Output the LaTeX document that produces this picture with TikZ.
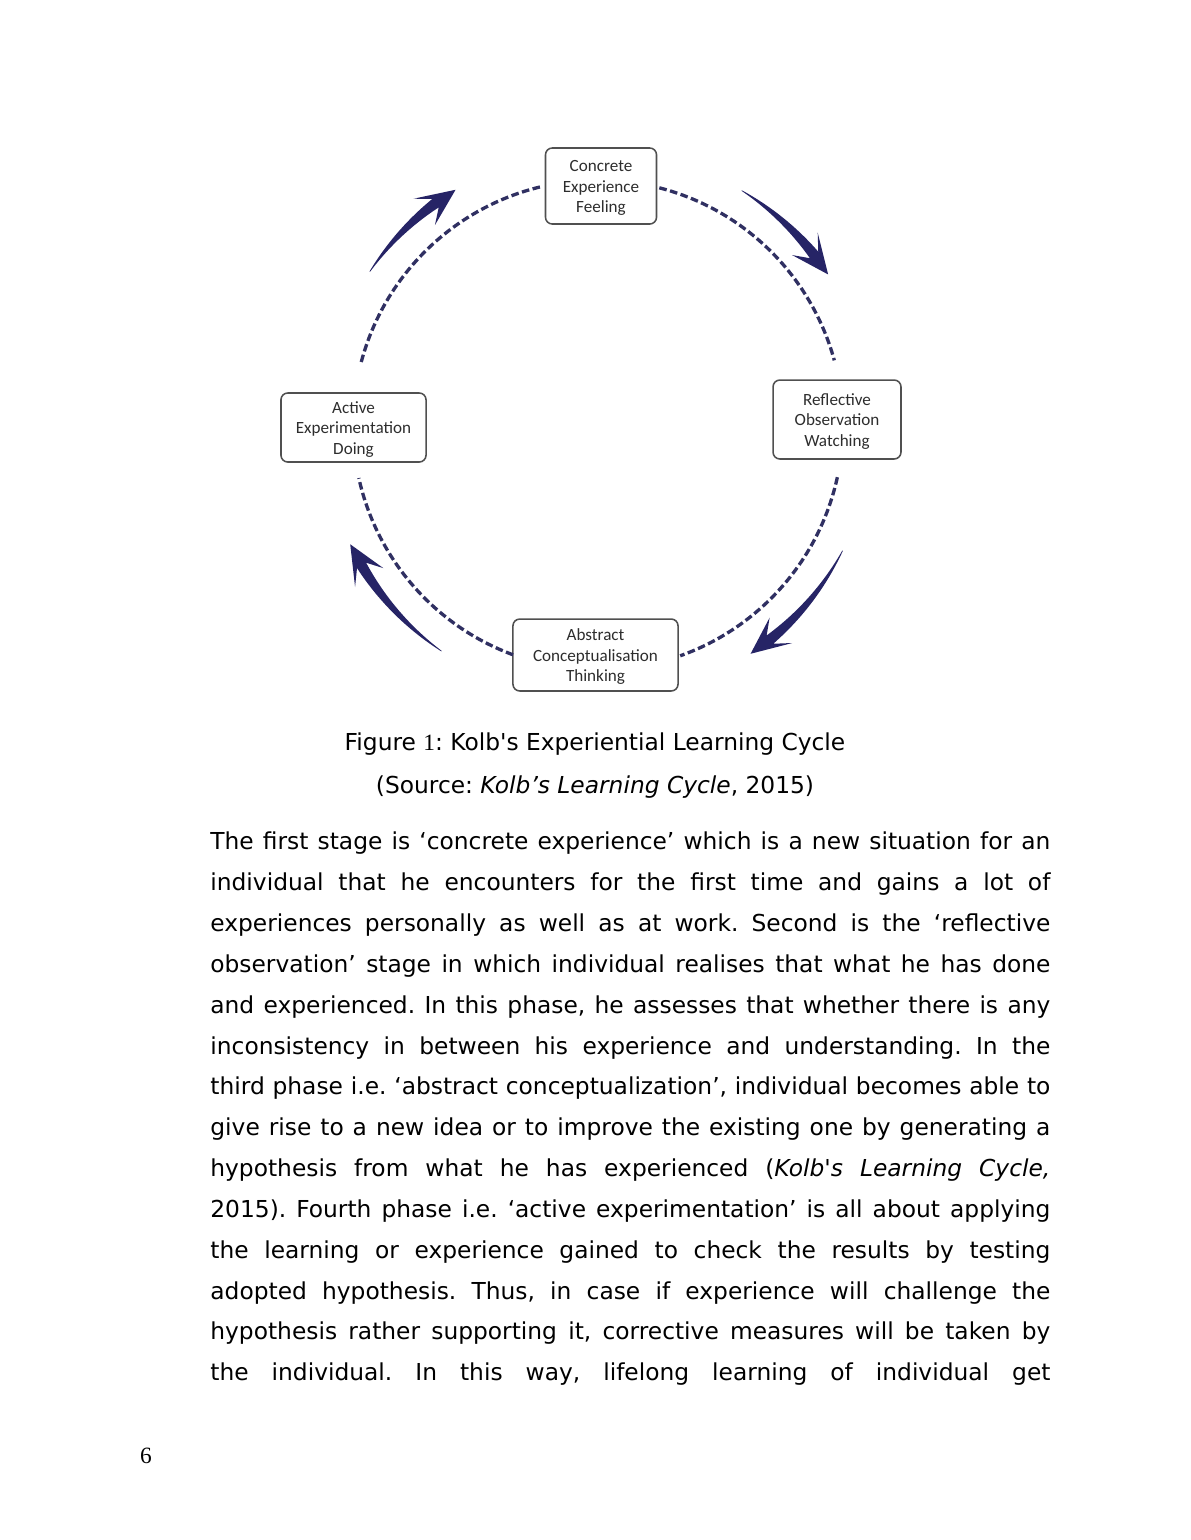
\documentclass[tikz,border=0pt]{standalone}
\usepackage{fontspec}
\setmainfont{DejaVu Sans}
\newfontfamily\boxfont{Carlito}
\newfontfamily\numfont{Liberation Serif}
\definecolor{cyclenavy}{RGB}{38,36,102}
\definecolor{dashnavy}{RGB}{48,48,98}
\definecolor{boxgray}{RGB}{80,80,80}
\definecolor{boxtext}{RGB}{45,45,45}
% tapered curved arrow round the cycle: #1 tail angle, #2 tip angle
\newcommand{\cyclearrow}[2]{%
  \pgfmathsetmacro{\arrdir}{((#1)-(#2))/abs((#1)-(#2))}%
  \pgfmathsetmacro{\arrbarb}{(#2)+8*\arrdir}%
  \pgfmathsetmacro{\arrnotch}{(#2)+5*\arrdir}%
  \fill[cyclearrowfill]
    plot[domain=#1:\arrnotch, samples=25] (\x:{275.3+5*((\x)-(#1))/((\arrnotch)-(#1))})
    -- (\arrbarb:292) -- (#2:275) -- (\arrbarb:258)
    -- plot[domain=\arrnotch:#1, samples=25] (\x:{274.7-5*((\x)-(#1))/((\arrnotch)-(#1))})
    -- cycle;
}
\tikzset{
  stagebox/.style={draw=boxgray, line width=0.8pt, rounded corners=3.5pt,
    fill=white, align=center, inner sep=0pt, text=boxtext,
    font=\boxfont\fontsize{8.8}{10.5}\selectfont},
  cycledash/.style={draw=dashnavy, line width=1.7pt,
    dash pattern=on 3.9pt off 1.8pt},
  cyclearrowfill/.style={fill=cyclenavy},
  bodytext/.style={text width=432pt, align=justify, inner sep=0pt,
    font=\fontsize{12}{21}\selectfont},
  captiontext/.style={inner sep=0pt, font=\fontsize{12}{14}\selectfont}
}
\frenchspacing
\begin{document}
\begin{tikzpicture}[x=0.5143pt, y=-0.5143pt]
\useasboundingbox[fill=white] (0,0) rectangle (1190,1540);

\coordinate (c) at (598,425);

% stages
\node[stagebox, minimum width=57.1pt, minimum height=39.1pt] (ce) at (601,186)
  {\rule{0pt}{8pt}Concrete\\Experience\\Feeling};
\node[stagebox, minimum width=65.8pt, minimum height=40.6pt] (ro) at (837,419.5)
  {\rule{0pt}{8pt}Reflective\\Observation\\Watching};
\node[stagebox, minimum width=84.9pt, minimum height=37pt] (ac) at (595.5,655)
  {\rule{0pt}{8pt}Abstract\\Conceptualisation\\Thinking};
\node[stagebox, minimum width=74.6pt, minimum height=35.5pt] (ae) at (353.5,427.5)
  {\rule{0pt}{8pt}Active\\Experimentation\\Doing};

% dashed cycle
\draw[cycledash] ([shift={(-75.5:245)}]c) arc[start angle=-75.5, end angle=-15.3, radius=245];
\draw[cycledash] ([shift={(12.3:245)}]c) arc[start angle=12.3, end angle=70.4, radius=245];
\draw[cycledash] ([shift={(110.3:245)}]c) arc[start angle=110.3, end angle=167.5, radius=245];
\draw[cycledash] ([shift={(194.9:245)}]c) arc[start angle=194.9, end angle=257.0, radius=245];

% arrows
\begin{scope}[shift={(c)}]
  \cyclearrow{-58.5}{-33.2}
  \cyclearrow{27.2}{56.3}
  \cyclearrow{124.7}{154.3}
  \cyclearrow{-146.1}{-121.2}
\end{scope}

% caption
\node[captiontext, anchor=base] (cap) at (595,750)
  {Figure {\numfont 1}: Kolb\textquotesingle s Experiential Learning Cycle};
\node[captiontext, anchor=base] (src) at (595,793)
  {(Source: \textit{Kolb’s Learning Cycle}, 2015)};

% paragraph
\node[bodytext, anchor=north west] (body) at (210,820.4) {\rule{0pt}{15pt}%
The first stage is ‘concrete experience’ which is a new situation for an\linebreak
individual that he encounters for the first time and gains a lot of\linebreak
experiences personally as well as at work. Second is the ‘reflective\linebreak
observation’ stage in which individual realises that what he has done\linebreak
and experienced. In this phase, he assesses that whether there is any\linebreak
inconsistency in between his experience and understanding. In the\linebreak
third phase i.e. ‘abstract conceptualization’, individual becomes able to\linebreak
give rise to a new idea or to improve the existing one by generating a\linebreak
hypothesis from what he has experienced (\textit{Kolb}\textquotesingle\textit{s Learning Cycle,}\linebreak
2015). Fourth phase i.e. ‘active experimentation’ is all about applying\linebreak
the learning or experience gained to check the results by testing\linebreak
adopted hypothesis. Thus, in case if experience will challenge the\linebreak
hypothesis rather supporting it, corrective measures will be taken by\linebreak
the individual. In this way, lifelong learning of individual get\parfillskip=0pt\par};

% page number
\node[captiontext, anchor=base, font=\numfont\fontsize{12}{14}\selectfont] (pagenum) at (146,1463) {6};
\end{tikzpicture}
\end{document}
